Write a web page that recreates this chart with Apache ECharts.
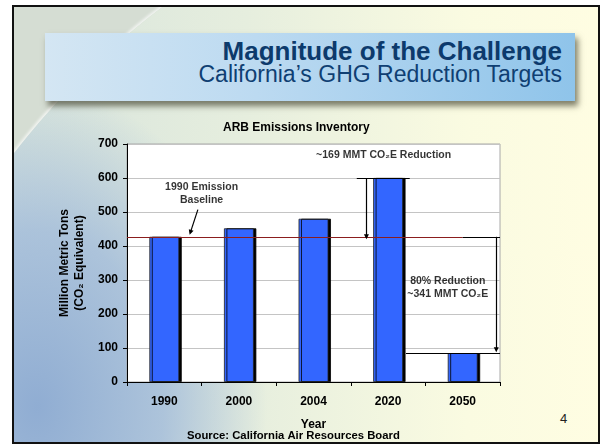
<!DOCTYPE html>
<html>
<head>
<meta charset="utf-8">
<script src="https://cdn.jsdelivr.net/npm/echarts@6/dist/echarts.min.js"></script>
<style>
  html, body { margin: 0; padding: 0; background: #fff; }
  body { width: 602px; height: 445px; position: relative; overflow: hidden; font-family: Arial, 'Liberation Sans', sans-serif; }
  .slide {
    position: absolute; left: 12px; top: 5px; width: 588px; height: 439px;
    box-sizing: border-box; border: 2px solid #111; overflow: hidden;
    background: #d5ddd3;
  }
  .globe {
    position: absolute; left: -167px; top: -160px; width: 1586px; height: 1586px;
    border-radius: 50%;
    box-shadow: 0 0 3px 2px rgba(255,255,255,0.7);
    background:
      radial-gradient(ellipse 230px 320px at 190px 560px, rgba(140,170,210,0.95) 0%, rgba(160,186,218,0.8) 55%, rgba(190,208,222,0) 100%),
      linear-gradient(to right, #d6e3dc 150px, #e6eede 400px, #fafbe1 620px, #fffde2 760px);
  }
  .banner {
    position: absolute; left: 45px; top: 33px; width: 530px; height: 68px;
    background: linear-gradient(to right, #d4e6f3 0%, #bcdaf1 40%, #8fc4ea 100%);
    box-shadow: 3px 5px 6px rgba(60,60,40,0.65);
  }
  .t1, .t2 { position: absolute; right: 13px; color: #0c3a6c; white-space: nowrap; }
  .t1 { top: 3px; font-size: 26px; font-weight: bold; }
  .t2 { top: 28px; font-size: 23px; color: #0f3f73; }
  .pg { position: absolute; left: 560px; top: 411px; font-size: 13px; color: #222; }
  #chart { position: absolute; left: 0; top: 0; width: 602px; height: 445px; }
</style>
</head>
<body>
<div class="slide"><div class="globe"></div></div>
<div class="banner">
  <div class="t1">Magnitude of the Challenge</div>
  <div class="t2">California’s GHG Reduction Targets</div>
</div>
<div class="pg">4</div>
<div id="chart"></div>
<script>
const years = ['1990', '2000', '2004', '2020', '2050']
const emissions = [427, 452, 480, 600, 85]
const yMin = 0
const yMax = 700
const yStep = 100

// annotation anchors, x in category units (category i spans i..i+1)
const baseline = emissions[0]
const notes = [
  { name: '1990 Emission\nBaseline', value: [1.0, 553] },
  { name: '~169 MMT CO₂E Reduction', value: [3.44, 668] },
  { name: '80% Reduction\n~341 MMT CO₂E', value: [4.3, 279] }
]
const segments = [
  { from: [0, baseline], to: [4.5, baseline], color: '#8b1e1e', arrow: false },
  { from: [4.5, baseline], to: [5, baseline], color: '#000', arrow: false },
  { from: [3.08, emissions[3]], to: [3.79, emissions[3]], color: '#000', arrow: false },
  { from: [3.21, emissions[3]], to: [3.21, baseline], color: '#000', arrow: true },
  { from: [4.95, baseline], to: [4.95, 95], color: '#000', arrow: true },
  { from: [3.74, emissions[4]], to: [5, emissions[4]], color: '#000', arrow: false },
  { from: [0.95, 507], to: [0.85, 440], color: '#000', arrow: true }
]

const chart = echarts.init(document.getElementById('chart'), null, { renderer: 'canvas' })
const bold = { fontFamily: 'Arial, Liberation Sans, sans-serif', fontWeight: 'bold', color: '#000' }

const option = {
  animation: false,
  backgroundColor: 'transparent',
  title: [{
    text: 'ARB Emissions Inventory',
    left: 218,
    top: 117,
    textStyle: { ...bold, fontSize: 12 }
  }, {
    text: 'Source: California Air Resources Board',
    left: 187,
    top: 430,
    padding: 0,
    textStyle: { ...bold, fontSize: 11.3 }
  }],
  grid: {
    left: 127,
    right: 102,
    top: 144,
    bottom: 63,
    show: true,
    backgroundColor: '#fff',
    borderColor: '#a8a8a8',
    borderWidth: 1
  },
  xAxis: [{
    type: 'category',
    data: years,
    name: 'Year',
    nameLocation: 'middle',
    nameGap: 37,
    nameTextStyle: { ...bold, fontSize: 12 },
    axisLine: { lineStyle: { color: '#000', width: 1 } },
    axisTick: { show: true, length: 4, lineStyle: { color: '#000' } },
    axisLabel: { ...bold, fontSize: 12, margin: 14 },
    splitLine: { show: false }
  }, {
    type: 'value',
    min: 0,
    max: years.length,
    show: false
  }],
  yAxis: {
    type: 'value',
    min: yMin,
    max: yMax,
    interval: yStep,
    name: 'Million Metric Tons\n(CO₂ Equivalent)',
    nameLocation: 'middle',
    nameGap: 38,
    nameTextStyle: { ...bold, fontSize: 12, lineHeight: 15 },
    axisLine: { show: true, lineStyle: { color: '#000', width: 1 } },
    axisTick: { show: true, length: 4, lineStyle: { color: '#000' } },
    axisLabel: { ...bold, fontSize: 12, margin: 9 },
    splitLine: { show: true, lineStyle: { color: '#c4c4c4', width: 1 } }
  },
  series: [{
    name: 'Emissions',
    type: 'bar',
    data: emissions,
    barWidth: '40%',
    itemStyle: {
      color: '#3366ff',
      borderColor: '#222',
      borderWidth: 0.8,
      shadowColor: '#000',
      shadowOffsetX: 2.5,
      shadowOffsetY: 0,
      shadowBlur: 0
    }
  }, {
    name: 'notes',
    type: 'scatter',
    xAxisIndex: 1,
    symbolSize: 0,
    silent: true,
    data: notes,
    label: {
      show: true,
      position: 'inside',
      formatter: '{b}',
      ...bold,
      fontSize: 10.5,
      lineHeight: 13
    },
    markLine: {
      silent: true,
      animation: false,
      label: { show: false },
      data: segments.map(s => [
        { coord: s.from, symbol: 'none', lineStyle: { color: s.color, width: 1.2, type: 'solid' } },
        { coord: s.to, symbol: s.arrow ? 'triangle' : 'none', symbolSize: [5, 5] }
      ])
    }
  }]
}

if (option && typeof option === 'object') {
  chart.setOption(option, true)
}
</script>
</body>
</html>
